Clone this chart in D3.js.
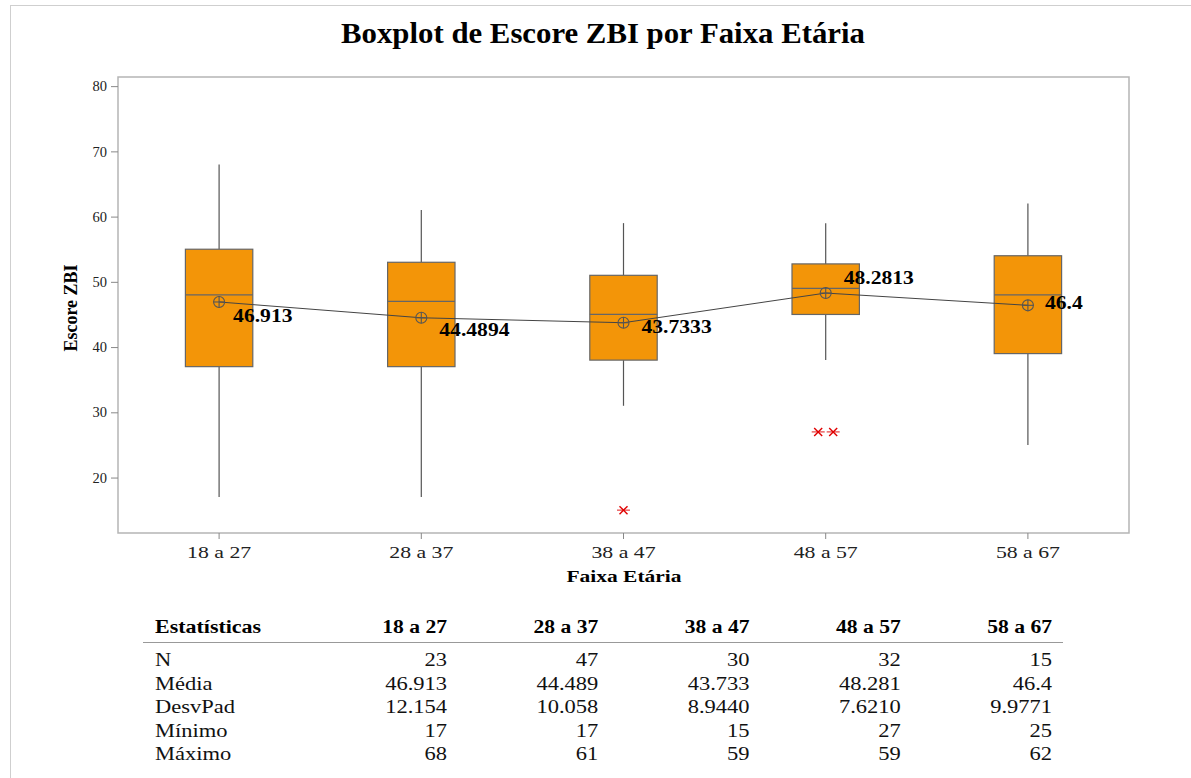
<!DOCTYPE html>
<html>
<head>
<meta charset="utf-8">
<script src="https://cdn.jsdelivr.net/npm/d3@7"></script>
<style>
  html, body { margin: 0; padding: 0; background: #fff; }
  svg { display: block; }
  text { font-family: "Liberation Serif", "Times New Roman", serif; }
</style>
</head>
<body>
<svg id="chart" width="1191" height="778"></svg>
<script>
// Age groups and box-plot summaries of the ZBI score
const categories = ["18 a 27", "28 a 37", "38 a 47", "48 a 57", "58 a 67"];
const q1 = [37, 37, 38, 45, 39];
const medians = [48, 47, 45, 49, 48];
const q3 = [55, 53, 51, 52.75, 54];
const whiskerLow = [17, 17, 31, 38, 25];
const whiskerHigh = [68, 61, 59, 59, 62];
const means = [46.913, 44.4894, 43.7333, 48.2813, 46.4];
const outlierGroup = ["38 a 47", "48 a 57", "48 a 57"];
const outlierValue = [15, 27, 27];

// Descriptive statistics table
const statN = [23, 47, 30, 32, 15];
const statStdev = [12.154, 10.058, 8.944, 7.621, 9.9771];
const statMin = [17, 17, 15, 27, 25];
const statMax = [68, 61, 59, 59, 62];

const yTicks = [20, 30, 40, 50, 60, 70, 80];

const svg = d3.select("#chart");
const W = 1191, H = 778;
const plot = { left: 118, right: 1129, top: 77, bottom: 533 };

// horizontally widened text, helper
function widen(sel, k) {
  sel.each(function () {
    const len = this.getComputedTextLength();
    d3.select(this).attr("textLength", len * k).attr("lengthAdjust", "spacingAndGlyphs");
  });
}

svg.append("rect").attr("width", W).attr("height", H).attr("fill", "#fff");
// outer frame
svg.append("rect")
  .attr("x", 10.5).attr("y", 5.5).attr("width", W + 20).attr("height", H + 20)
  .attr("fill", "none").attr("stroke", "#cfcfcf").attr("stroke-width", 1);

const x = d3.scaleBand().domain(categories).range([plot.left, plot.right]).padding(0);
const y = d3.scaleLinear().domain([11.5, 81.4]).range([plot.bottom, plot.top]);
const boxW = x.bandwidth() / 3;

// title
svg.append("text")
  .attr("x", 603).attr("y", 43)
  .attr("text-anchor", "middle")
  .attr("font-size", 28.5).attr("font-weight", "bold").attr("fill", "#000")
  .text("Boxplot de Escore ZBI por Faixa Etária")
  .call(widen, 1.08);

// plot frame
svg.append("rect")
  .attr("x", plot.left).attr("y", plot.top)
  .attr("width", plot.right - plot.left).attr("height", plot.bottom - plot.top)
  .attr("fill", "#fff").attr("stroke", "#b5b5b5").attr("stroke-width", 1.5);

// y axis
const yAxis = svg.append("g").attr("transform", `translate(${plot.left},0)`)
  .call(d3.axisLeft(y).tickValues(yTicks).tickSize(7).tickPadding(4));
yAxis.select(".domain").remove();
yAxis.selectAll(".tick line").attr("stroke", "#888");
yAxis.selectAll(".tick text")
  .attr("font-family", "Liberation Serif, serif").attr("font-size", 14.5).attr("fill", "#222");

// x axis
const xAxis = svg.append("g").attr("transform", `translate(0,${plot.bottom})`)
  .call(d3.axisBottom(x).tickSize(6).tickPadding(7));
xAxis.select(".domain").remove();
xAxis.selectAll(".tick line").attr("stroke", "#888");
xAxis.selectAll(".tick text")
  .attr("font-family", "Liberation Serif, serif").attr("font-size", 17).attr("fill", "#222")
  .call(widen, 1.28);

// axis titles
svg.append("text")
  .attr("transform", "translate(77,308) rotate(-90)")
  .attr("text-anchor", "middle")
  .attr("font-size", 18).attr("font-weight", "bold")
  .text("Escore ZBI");
svg.append("text")
  .attr("x", 624).attr("y", 582)
  .attr("text-anchor", "middle")
  .attr("font-size", 16.5).attr("font-weight", "bold")
  .text("Faixa Etária")
  .call(widen, 1.3);

const idx = d3.range(categories.length);
const cx = i => x(categories[i]) + x.bandwidth() / 2;
const g = svg.append("g");

// whiskers
g.selectAll(".whisker-hi").data(idx).join("line")
  .attr("x1", cx).attr("x2", cx)
  .attr("y1", i => y(q3[i])).attr("y2", i => y(whiskerHigh[i]))
  .attr("stroke", "#555").attr("stroke-width", 1.2);
g.selectAll(".whisker-lo").data(idx).join("line")
  .attr("x1", cx).attr("x2", cx)
  .attr("y1", i => y(q1[i])).attr("y2", i => y(whiskerLow[i]))
  .attr("stroke", "#555").attr("stroke-width", 1.2);

// boxes
g.selectAll(".box").data(idx).join("rect")
  .attr("x", i => cx(i) - boxW / 2)
  .attr("y", i => y(q3[i]))
  .attr("width", boxW)
  .attr("height", i => y(q1[i]) - y(q3[i]))
  .attr("fill", "#F39508").attr("stroke", "#666").attr("stroke-width", 1.2);

// medians
g.selectAll(".median").data(idx).join("line")
  .attr("x1", i => cx(i) - boxW / 2).attr("x2", i => cx(i) + boxW / 2)
  .attr("y1", i => y(medians[i])).attr("y2", i => y(medians[i]))
  .attr("stroke", "#666").attr("stroke-width", 1.2);

// mean connect line
g.append("path")
  .datum(idx)
  .attr("fill", "none").attr("stroke", "#444").attr("stroke-width", 1)
  .attr("d", d3.line().x(cx).y(i => y(means[i])));

// mean symbols (circle with cross)
const r = 5.5;
const ms = g.selectAll(".mean").data(idx).join("g")
  .attr("transform", i => `translate(${cx(i)},${y(means[i])})`);
ms.append("circle").attr("r", r).attr("fill", "none").attr("stroke", "#555").attr("stroke-width", 1.1);
ms.append("line").attr("x1", -r).attr("x2", r).attr("stroke", "#555").attr("stroke-width", 1.1);
ms.append("line").attr("y1", -r).attr("y2", r).attr("stroke", "#555").attr("stroke-width", 1.1);

// mean labels
const labelShift = [[14, 20], [18, 18], [18, 10], [18, -9], [17, 4]];
g.selectAll(".mean-label").data(idx).join("text")
  .attr("x", i => cx(i) + labelShift[i][0])
  .attr("y", i => y(means[i]) + labelShift[i][1])
  .attr("font-size", 18).attr("font-weight", "bold").attr("fill", "#000")
  .text(i => String(means[i]))
  .call(widen, 1.2);

// outliers (tied values spread sideways)
const outIdx = d3.range(outlierValue.length);
const tieOffset = outIdx.map(j => {
  const same = outIdx.filter(k => outlierGroup[k] === outlierGroup[j] && outlierValue[k] === outlierValue[j]);
  const pos = same.indexOf(j);
  return (pos - (same.length - 1) / 2) * 15;
});
const os = g.selectAll(".outlier").data(outIdx).join("g")
  .attr("transform", j => `translate(${x(outlierGroup[j]) + x.bandwidth() / 2 + tieOffset[j]},${y(outlierValue[j])})`);
os.append("line").attr("x1", -6.5).attr("x2", 6.5).attr("stroke", "#e85a5a").attr("stroke-width", 1.4);
os.append("line").attr("x1", -4).attr("x2", 4).attr("y1", -4).attr("y2", 4).attr("stroke", "#e00000").attr("stroke-width", 1.4);
os.append("line").attr("x1", -4).attr("x2", 4).attr("y1", 4).attr("y2", -4).attr("stroke", "#e00000").attr("stroke-width", 1.4);

// statistics table
const colRight = d3.scaleLinear().domain([0, categories.length - 1]).range([447, 1052]);
const fmtMean = d3.format(".5~g");
const fmtSd = d3.format(".5g");
const rows = [
  ["N", statN.map(String)],
  ["Média", means.map(fmtMean)],
  ["DesvPad", statStdev.map(fmtSd)],
  ["Mínimo", statMin.map(String)],
  ["Máximo", statMax.map(String)]
];
const tbl = svg.append("g");
tbl.append("text").attr("x", 155).attr("y", 633)
  .attr("font-size", 18).attr("font-weight", "bold").text("Estatísticas").call(widen, 1.22);
tbl.selectAll(".colhead").data(categories).join("text")
  .attr("x", (d, i) => colRight(i)).attr("y", 633)
  .attr("text-anchor", "end")
  .attr("font-size", 18).attr("font-weight", "bold").text(d => d).call(widen, 1.2);
tbl.append("line").attr("x1", 143).attr("x2", 1063).attr("y1", 642.5).attr("y2", 642.5)
  .attr("stroke", "#999").attr("stroke-width", 1);
const rowY = d3.scaleLinear().domain([0, rows.length - 1]).range([666, 760]);
rows.forEach((row, ri) => {
  tbl.append("text").attr("x", 155).attr("y", rowY(ri))
    .attr("font-size", 18).attr("fill", "#111").text(row[0]).call(widen, 1.25);
  tbl.selectAll(null).data(row[1]).join("text")
    .attr("x", (d, i) => colRight(i)).attr("y", rowY(ri))
    .attr("text-anchor", "end")
    .attr("font-size", 18).attr("fill", "#111").text(d => d).call(widen, 1.25);
});
</script>
</body>
</html>
